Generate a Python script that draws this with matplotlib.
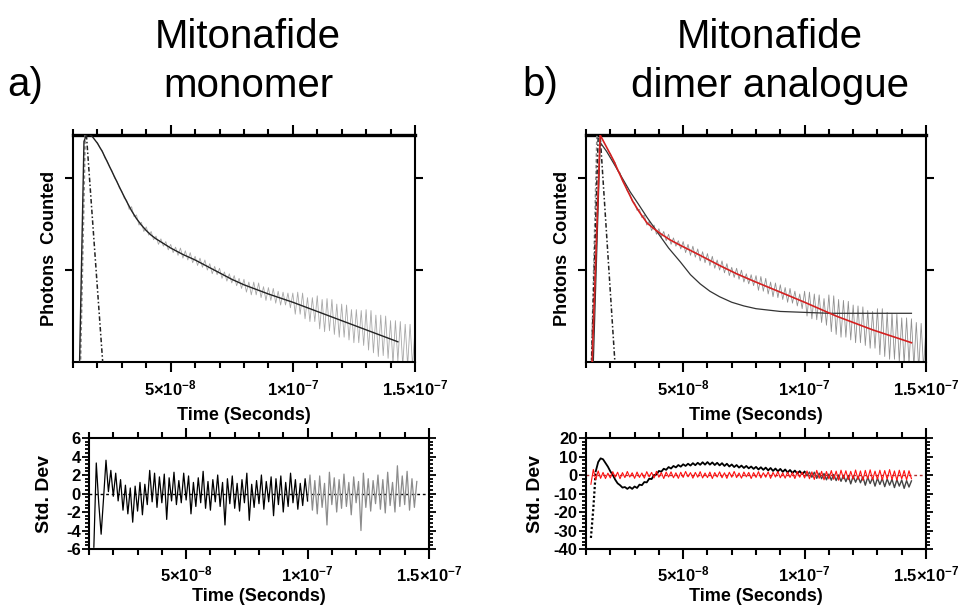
import numpy as np
import matplotlib.pyplot as plt
from matplotlib.ticker import FixedLocator, MultipleLocator, NullLocator, NullFormatter

plt.rcParams['font.family'] = ['Liberation Sans', 'DejaVu Sans']
plt.rcParams['mathtext.fontset'] = 'custom'
plt.rcParams['mathtext.rm'] = 'Liberation Sans'
plt.rcParams['mathtext.bf'] = 'Liberation Sans:bold'
plt.rcParams['axes.unicode_minus'] = False

# ---------------- data (times in units of 1e-8 s, counts as log10) ----------------
time_ticks = [5e-8, 1e-7, 1.5e-7]
time_labels = [r'$\mathbf{5{\times}10^{-8}}$', r'$\mathbf{1{\times}10^{-7}}$',
               r'$\mathbf{1.5{\times}10^{-7}}$']

# a) monomer - fitted decay
fit_a_t = [1.27, 1.45, 1.55, 1.65, 1.8, 2.0, 2.2, 2.4, 2.6, 2.8, 3.0, 3.2, 3.4, 3.6, 3.8, 4.0,
           4.2, 4.4, 4.7, 5.0, 5.5, 6.0, 6.5, 7.0, 7.5, 8.0, 9.0, 10.0, 11.0, 12.0, 13.0, 14.3]
fit_a_log = [1.0, 3.40, 3.47, 3.48, 3.45, 3.38, 3.29, 3.18, 3.07, 2.96, 2.85, 2.745, 2.645, 2.56,
             2.49, 2.43, 2.38, 2.34, 2.29, 2.24, 2.17, 2.11, 2.04, 1.97, 1.90, 1.84, 1.74, 1.65,
             1.55, 1.45, 1.35, 1.22]
# a) measured decay, channels every 0.1e-8 s from 2.0e-8 s
data_a_log = [3.39, 3.33, 3.30, 3.22, 3.19, 3.12, 3.08, 3.00, 2.97, 2.89,
              2.86, 2.78, 2.76, 2.66, 2.69, 2.58, 2.60, 2.49, 2.52, 2.42,
              2.47, 2.38, 2.42, 2.33, 2.37, 2.28, 2.34, 2.26, 2.31, 2.22,
              2.28, 2.19, 2.25, 2.16, 2.24, 2.13, 2.21, 2.11, 2.19, 2.08,
              2.15, 2.05, 2.13, 2.03, 2.11, 2.00, 2.07, 1.96, 2.04, 1.95,
              2.02, 1.91, 1.98, 1.88, 1.96, 1.86, 1.94, 1.83, 1.91, 1.80,
              1.90, 1.76, 1.87, 1.73, 1.87, 1.73, 1.86, 1.70, 1.82, 1.67,
              1.81, 1.67, 1.80, 1.64, 1.77, 1.62, 1.76, 1.62, 1.75, 1.59,
              1.75, 1.52, 1.76, 1.52, 1.75, 1.47, 1.70, 1.44, 1.70, 1.44,
              1.72, 1.36, 1.68, 1.33, 1.69, 1.34, 1.68, 1.30, 1.63, 1.27,
              1.63, 1.27, 1.62, 1.24, 1.57, 1.21, 1.57, 1.21, 1.56, 1.18,
              1.57, 1.13, 1.56, 1.10, 1.51, 1.06, 1.51, 1.07, 1.50, 1.04,
              1.45, 0.98, 1.45, 1.01, 1.44, 0.96, 1.41, 0.96, 1.41, 0.96,
              1.35]
irf_a_t = [1.55, 2.23]
irf_a_log = [3.47, 0.95]
rise_a_t = [1.30, 1.50]
rise_a_log = [0.9, 3.47]

# b) dimer analogue - double exponential fit (red) and single exponential fit (black)
fit_b_t = [1.25, 1.58, 1.8, 2.12, 2.53, 2.94, 3.2, 3.52, 3.8, 4.05, 4.45, 4.88, 5.7, 6.5, 7.2,
           7.9, 9.0, 10.0, 11.3, 12.8, 14.4]
fit_b_log = [1.0, 3.47, 3.36, 3.20, 2.96, 2.74, 2.63, 2.51, 2.45, 2.40, 2.33, 2.27, 2.16, 2.05,
             1.96, 1.88, 1.76, 1.65, 1.50, 1.35, 1.21]
mono_b_t = [1.3, 1.58, 1.85, 2.12, 2.45, 2.82, 3.15, 3.52, 3.97, 4.4, 4.88, 5.3, 5.7, 6.1, 6.5,
            7.0, 7.5, 8.0, 9.0, 10.0, 11.0, 14.4]
mono_b_log = [1.0, 3.39, 3.29, 3.17, 3.02, 2.85, 2.72, 2.57, 2.40, 2.24, 2.09, 1.95, 1.85, 1.77,
              1.71, 1.65, 1.61, 1.58, 1.55, 1.54, 1.53, 1.53]
data_b_log = [3.27, 3.20, 3.17, 3.08, 3.06, 2.97, 2.94, 2.86, 2.83, 2.75,
              2.73, 2.65, 2.66, 2.57, 2.60, 2.49, 2.53, 2.43, 2.49, 2.39,
              2.45, 2.36, 2.42, 2.32, 2.39, 2.28, 2.35, 2.26, 2.32, 2.23,
              2.31, 2.19, 2.28, 2.16, 2.26, 2.14, 2.23, 2.10, 2.20, 2.08,
              2.18, 2.05, 2.15, 2.02, 2.11, 2.00, 2.10, 1.97, 2.07, 1.94,
              2.03, 1.92, 2.02, 1.90, 2.00, 1.87, 1.96, 1.85, 1.95, 1.83,
              1.94, 1.78, 1.93, 1.77, 1.91, 1.74, 1.87, 1.71, 1.86, 1.70,
              1.84, 1.68, 1.81, 1.65, 1.80, 1.64, 1.77, 1.61, 1.74, 1.58,
              1.77, 1.50, 1.76, 1.47, 1.74, 1.46, 1.73, 1.43, 1.69, 1.40,
              1.73, 1.33, 1.72, 1.30, 1.68, 1.27, 1.67, 1.27, 1.66, 1.24,
              1.62, 1.21, 1.61, 1.21, 1.60, 1.18, 1.56, 1.15, 1.55, 1.15,
              1.58, 1.08, 1.58, 1.06, 1.54, 1.03, 1.53, 1.03, 1.52, 1.00,
              1.48, 0.98, 1.48, 0.98, 1.47, 0.95, 1.43, 0.92, 1.42, 0.93,
              1.38]
irf_b_t = [1.22, 1.50, 1.58, 2.20]
irf_b_log = [0.95, 3.45, 3.47, 0.95]
rise_b_t = [1.22, 1.45]
rise_b_log = [0.95, 3.47]

# residuals, channels every 0.1e-8 s from 1.2e-8 s
resid_a = [-5.8, 3.3, -1.0, -4.4, -0.5, 3.6, 0.2, 2.5, -0.3, 2.2, -0.8, 1.5, -1.8, 0.9, -2.2, 0.6,
           -3.1, 0.8, -1.9, 1.2, -2.3, 1.0, -1.2, 2.5, -0.9, 2.2, -1.5, 1.8, -1.0, 2.1, -2.8, 1.7,
           -0.8, 2.3, -1.2, 1.4, -1.0, 2.2, -0.7, 1.9, -2.2, 1.2, -1.4, 1.7, -1.0, 2.4, -1.6, 1.3,
           -1.8, 1.5, -0.9, 2.0, -1.4, 1.2, -3.4, 1.6, -1.1, 1.9, -1.6, 1.1, -1.9, 1.5, -1.0, 2.2,
           -2.9, 1.0, -1.5, 1.4, -1.1, 2.0, -1.7, 1.3, -0.9, 1.8, -2.4, 1.6, -1.2, 1.9, -2.0, 1.2,
           -1.4, 2.2, -1.0, 1.5, -1.7, 1.1, -1.3, 1.6, -0.8,
           2.0, -1.8, 1.4, -2.2, 1.9, -1.5, 1.1, -3.4, 2.3, -1.2, 1.7, -2.0, 1.5, -1.6, 2.1, -1.4,
           1.2, -2.3, 1.8, -1.0, 1.3, -4.0, 2.2, -1.5, 1.6, -1.9, 1.4, -1.1, 2.0, -1.7, 1.5, -2.1,
           2.3, -1.3, 1.2, -2.0, 3.0, -1.4, 1.9, -1.2, 2.4, -1.8, 1.6, -1.5, 1.3]
resid_b_single = [-34, -18, 2, 7, 9, 8.5, 6.5, 4.5, 2, 0, -2.5, -4.5, -5.5, -6.8, -6.5, -7.5, -6.5,
                  -7.5, -6.2, -7, -5.2, -5.5, -3.8, -4, -2, -2.2, 0, 0.2, 2.2, 1.8, 3.4, 2.8, 4.3,
                  3.5, 4.9, 4.1, 5.4, 4.5, 5.8, 4.9, 6.1, 5.1, 6.4, 5.3, 6.6, 5.5, 6.9, 5.6, 7.0,
                  5.6, 6.8, 5.4, 6.6, 5.2, 6.4, 4.9, 6.1, 4.6, 5.7, 4.3, 5.4, 4.0, 5.1, 3.8, 4.9,
                  3.6, 4.6, 3.3, 4.4, 3.0, 4.2, 2.8, 4.0, 2.5, 3.8, 2.2, 3.5, 2.0, 3.3, 1.7, 3.0,
                  1.4, 2.7, 1.1, 2.4, 0.8, 2.1, 0.5, 1.8,
                  -0.5, 1.6, -1.2, 1.5, -1.8, 1.0, -2.0, 0.8, -2.6, 0.5, -2.8, 0.3, -3.0, 0.0,
                  -3.4, -0.2, -3.6, -0.4, -4.8, -0.6, -3.9, -0.8, -4.2, -1.0, -5.5, -1.2, -4.6,
                  -1.5, -6.0, -1.7, -5.1, -1.9, -6.3, -2.1, -5.5, -2.3, -6.8, -2.5, -6.0, -2.7,
                  -7.2, -3.0, -6.5, -3.2]
resid_b_double = [-5.0, 3.0, -2.5, 2.2, -1.8, 1.4, -1.9, 1.0, -1.6, 1.8, -1.2, 1.5, -2.0, 1.3,
                  -1.4, 1.9, -1.1, 1.2, -1.8, 1.6, -1.3, 1.1, -1.7, 1.8, -1.0, 1.4, -1.6, 2.0,
                  -1.2, 1.3, -1.9, 1.6, -1.1, 1.7, -1.5, 1.2, -1.8, 1.5, -1.3, 1.9, -1.0, 1.3,
                  -1.7, 1.4, -1.2, 1.8, -1.6, 1.1, -1.4, 1.6, -1.9, 1.3, -1.1, 1.7, -1.5, 1.2,
                  -1.8, 1.5, -1.2, 1.9, -1.4, 1.1, -1.7, 1.6, -1.0, 1.4, -1.9, 1.3, -1.3, 1.8,
                  -1.6, 1.2, -1.2, 1.7, -1.8, 1.4, -1.1, 1.9, -1.5, 1.2, -1.7, 1.6, -1.3, 1.3,
                  -1.9, 1.8, -1.2, 1.5, -1.6,
                  2.2, -2.0, 1.7, -2.4, 2.5, -1.8, 2.0, -2.6, 1.9, -2.1, 2.4, -2.3, 2.1, -2.8,
                  2.6, -2.0, 2.3, -2.5, 2.0, -2.2, 2.7, -2.4, 2.2, -2.9, 2.5, -2.1, 2.8, -2.6,
                  2.1, -2.3, 2.6, -2.7, 2.4, -2.2, 2.9, -2.5, 2.2, -2.8, 2.6, -2.1, 2.4, -2.6,
                  2.3, -2.0]

# time grids (1 ns channels)
t_data_a = (20 + np.arange(len(data_a_log))) * 1e-9
t_data_b = (20 + np.arange(len(data_b_log))) * 1e-9
t_res_a = (12 + np.arange(len(resid_a))) * 1e-9
t_res_b = (12 + np.arange(len(resid_b_single))) * 1e-9
ns = 1e-8


def time_axis(ax, xlabel_pad, tick_pad):
    ax.set_xlim(1e-8, 1.5e-7)
    ax.xaxis.set_major_locator(FixedLocator(time_ticks))
    ax.set_xticklabels(time_labels)
    ax.xaxis.set_minor_locator(MultipleLocator(1e-8))
    ax.tick_params(axis='x', which='both', direction='out', top=True, bottom=True, width=1.5)
    ax.tick_params(axis='x', which='major', length=7, labelsize=12, pad=tick_pad)
    ax.tick_params(axis='x', which='minor', length=4)
    ax.set_xlabel('Time (Seconds)', fontsize=13, fontweight='bold', labelpad=xlabel_pad)
    for sp in ax.spines.values():
        sp.set_linewidth(1.5)


def decay_axis(ax):
    ax.set_yscale('log')
    ax.set_ylim(10, 10 ** 3.47)
    ax.yaxis.set_major_locator(FixedLocator([100, 1000]))
    ax.yaxis.set_major_formatter(NullFormatter())
    ax.yaxis.set_minor_locator(NullLocator())
    ax.tick_params(axis='y', which='major', direction='out', left=True, right=True,
                   length=6, width=1.5)
    ax.set_ylabel('Photons  Counted', fontsize=13, fontweight='bold', labelpad=1)
    time_axis(ax, 6, 5)
    ax.spines['top'].set_linewidth(2.4)


def resid_axis(ax, lo, hi, major, minor, pad):
    ax.set_ylim(lo, hi)
    ax.yaxis.set_major_locator(MultipleLocator(major))
    ax.yaxis.set_minor_locator(MultipleLocator(minor))
    ax.tick_params(axis='y', which='both', direction='out', left=True, right=True, width=1.3)
    ax.tick_params(axis='y', which='major', length=5, labelsize=12, pad=1)
    ax.tick_params(axis='y', which='minor', length=3)
    for lab in ax.get_yticklabels():
        lab.set_fontweight('bold')
    ax.set_ylabel('Std. Dev', fontsize=14, fontweight='bold', labelpad=pad)
    time_axis(ax, 3, 4)


fig = plt.figure(figsize=(9.59, 6.08), dpi=100)
ax_a = fig.add_axes([0.0761, 0.4046, 0.3566, 0.3734])
ax_b = fig.add_axes([0.6111, 0.4046, 0.3545, 0.3734])
ax_ra = fig.add_axes([0.0928, 0.0970, 0.3545, 0.1826])
ax_rb = fig.add_axes([0.6111, 0.0970, 0.3545, 0.1826])

# ---- a) decay
ax_a.plot(t_data_a, 10 ** np.array(data_a_log), color='#a8a8a8', lw=0.6, zorder=2)
ax_a.plot(np.array(rise_a_t) * ns, 10 ** np.array(rise_a_log), color='#888888', lw=1.2,
          ls=(0, (2, 1.5)), zorder=3)
ax_a.plot(np.array(irf_a_t) * ns, 10 ** np.array(irf_a_log), color='#222222', lw=1.1,
          ls=(0, (3, 1.5, 1, 1.5)), zorder=3)
ax_a.plot(np.array(fit_a_t) * ns, 10 ** np.array(fit_a_log), color='#222222', lw=1.0, zorder=4)
decay_axis(ax_a)

# ---- b) decay
ax_b.plot(t_data_b, 10 ** np.array(data_b_log), color='#909090', lw=0.6, zorder=2)
ax_b.plot(np.array(rise_b_t) * ns, 10 ** np.array(rise_b_log), color='#888888', lw=1.2,
          ls=(0, (2, 1.5)), zorder=3)
ax_b.plot(np.array(irf_b_t) * ns, 10 ** np.array(irf_b_log), color='#222222', lw=1.1,
          ls=(0, (3, 1.5, 1, 1.5)), zorder=3)
ax_b.plot(np.array(mono_b_t) * ns, 10 ** np.array(mono_b_log), color='#333333', lw=0.9, zorder=4)
ax_b.plot(np.array(fit_b_t) * ns, 10 ** np.array(fit_b_log), color='#d42020', lw=1.2, zorder=5)
decay_axis(ax_b)

# ---- a) residuals
ax_ra.axhline(0, color='black', lw=1.0, ls=(0, (2, 2)), zorder=1)
ax_ra.plot(t_res_a[88:], resid_a[88:], color='#8c8c8c', lw=0.9, zorder=2)
ax_ra.plot(t_res_a[:89], resid_a[:89], color='black', lw=0.9, zorder=3)
resid_axis(ax_ra, -6, 6, 2, 0.4, 9)

# ---- b) residuals
ax_rb.axhline(0, color='#b03030', lw=1.0, ls=(0, (2, 2)), zorder=1)
ax_rb.plot(t_res_b[88:], resid_b_single[88:], color='#444444', lw=1.0, zorder=2)
ax_rb.plot(t_res_b[:3], resid_b_single[:3], color='black', lw=1.6, ls=(0, (1, 1)), zorder=3)
ax_rb.plot(t_res_b[2:89], resid_b_single[2:89], color='black', lw=1.3, zorder=3)
ax_rb.plot(t_res_b, resid_b_double, color='#ff1010', lw=0.8, zorder=4)
resid_axis(ax_rb, -40, 20, 10, 2, 7)

# titles
fig.text(0.2586, 0.899, 'Mitonafide\nmonomer', fontsize=29, ha='center', va='center',
         multialignment='center', linespacing=1.38)
fig.text(0.008, 0.860, 'a)', fontsize=29, ha='left', va='center')
fig.text(0.803, 0.899, 'Mitonafide\ndimer analogue', fontsize=29, ha='center', va='center',
         multialignment='center', linespacing=1.38)
fig.text(0.545, 0.860, 'b)', fontsize=29, ha='left', va='center')

fig.savefig('out.png', dpi=100)
